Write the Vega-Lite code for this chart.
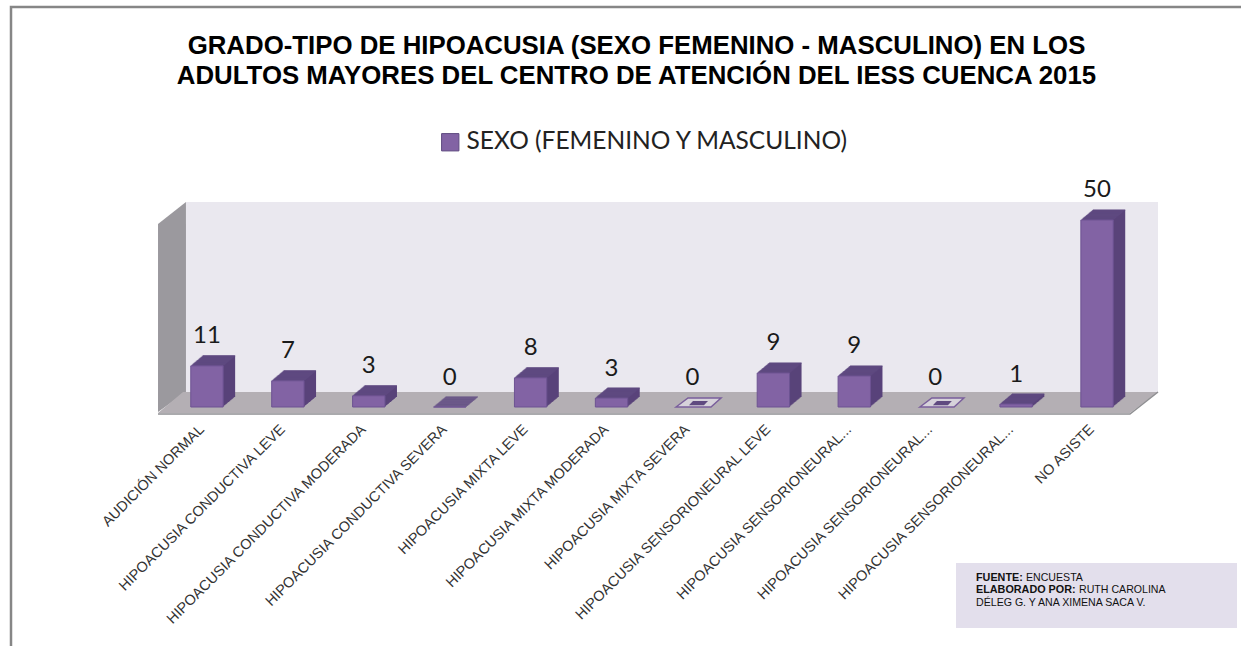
{
"$schema":"https://vega.github.io/schema/vega-lite/v6.json",
"width":1241,"height":646,"autosize":"none","padding":0,"background":"#ffffff",
"view":{"stroke":null},
"title":{"text":["GRADO-TIPO DE HIPOACUSIA (SEXO FEMENINO - MASCULINO) EN LOS","ADULTOS MAYORES DEL CENTRO DE ATENCIÓN DEL IESS CUENCA 2015"],"anchor":"middle","frame":"group","dx":16,"offset":-90,"font":"Liberation Sans","fontSize":25.8,"fontWeight":"bold","color":"#000000","lineHeight":30},
"datasets":{
"barras":[
{"categoria":"AUDICIÓN NORMAL","valor":11,"etiqueta":"11"},
{"categoria":"HIPOACUSIA CONDUCTIVA LEVE","valor":7,"etiqueta":"7"},
{"categoria":"HIPOACUSIA CONDUCTIVA MODERADA","valor":3,"etiqueta":"3"},
{"categoria":"HIPOACUSIA CONDUCTIVA SEVERA","valor":0,"etiqueta":"0"},
{"categoria":"HIPOACUSIA MIXTA LEVE","valor":7.8,"etiqueta":"8"},
{"categoria":"HIPOACUSIA MIXTA MODERADA","valor":2.4,"etiqueta":"3"},
{"categoria":"HIPOACUSIA MIXTA SEVERA","valor":0,"etiqueta":"0"},
{"categoria":"HIPOACUSIA SENSORIONEURAL LEVE","valor":9.1,"etiqueta":"9"},
{"categoria":"HIPOACUSIA SENSORIONEURAL MODERADA","valor":8.3,"etiqueta":"9"},
{"categoria":"HIPOACUSIA SENSORIONEURAL SEVERA","valor":0,"etiqueta":"0"},
{"categoria":"HIPOACUSIA SENSORIONEURAL PROFUNDA","valor":0.8,"etiqueta":"1"},
{"categoria":"NO ASISTE","valor":50,"etiqueta":"50"}
],
"paredFondo":[{"u":0.245,"a":54.81,"b":4.01},{"u":12.172,"a":54.81,"b":4.01}],
"paredLateral":[{"u":-0.098,"a":48.93,"b":-1.34},{"u":0.245,"a":54.81,"b":4.01}],
"suelo":[{"u":-0.098,"a":-1.6,"b":-1.6},{"u":0.209,"a":4.01,"b":-1.6},{"u":11.828,"a":4.01,"b":-1.6},{"u":12.172,"a":4.01,"b":4.01}],
"bordeSuelo":[{"u":-0.098,"a":-1.9},{"u":11.828,"a":-1.9},{"u":12.172,"a":4.01}],
"marco":[{"u":-1.9018,"a":-63.9},{"u":-1.9018,"a":106.95},{"u":13.19,"a":106.95}],
"caja":[{"u":9.693,"a":-41.71,"b":-59.09},{"u":13.141,"a":-41.71,"b":-59.09}],
"vacias":[
{"f":"c7","u":6.258,"a":0,"b":0},{"f":"c7","u":6.405,"a":2.41,"b":0},{"f":"c7","u":6.687,"a":2.41,"b":0},{"f":"c7","u":6.81,"a":2.41,"b":2.41},
{"f":"c10","u":9.25,"a":0,"b":0},{"f":"c10","u":9.397,"a":2.41,"b":0},{"f":"c10","u":9.67,"a":2.41,"b":0},{"f":"c10","u":9.79,"a":2.41,"b":2.41}],
"vaciasInterior":[
{"f":"c7","u":6.417,"a":0.45,"b":0.45},{"f":"c7","u":6.466,"a":1.6,"b":0.45},{"f":"c7","u":6.601,"a":1.6,"b":0.45},{"f":"c7","u":6.65,"a":1.6,"b":1.6},
{"f":"c10","u":9.41,"a":0.45,"b":0.45},{"f":"c10","u":9.459,"a":1.6,"b":0.45},{"f":"c10","u":9.594,"a":1.6,"b":0.45},{"f":"c10","u":9.643,"a":1.6,"b":1.6}],
"notaNegrita":[{"u":9.939,"a":-45.7,"t":"FUENTE:"},{"u":9.939,"a":-48.9,"t":"ELABORADO POR:"}],
"notaNormal":[{"u":10.552,"a":-45.7,"t":"ENCUESTA"},{"u":11.203,"a":-48.9,"t":"RUTH CAROLINA"},{"u":9.939,"a":-52.4,"t":"DÉLEG G. Y ANA XIMENA SACA V."}]
},
"data":{"name":"barras"},
"resolve":{"scale":{"x":"independent"}},
"config":{"axis":{"grid":false}},
"layer":[
{"encoding":{
"x":{"field":"u","type":"quantitative","axis":null,"scale":{"domain":[-2.0368,13.1902],"nice":false,"zero":false}},
"y":{"field":"a","type":"quantitative","axis":null,"scale":{"domain":[-63.9,108.82],"nice":false,"zero":false}},
"y2":{"field":"b"}},
"layer":[
{"data":{"name":"paredFondo"},"mark":{"type":"area","color":"#eae8ef"}},
{"data":{"name":"paredLateral"},"mark":{"type":"area","color":"#9b999e"}},
{"data":{"name":"suelo"},"mark":{"type":"area","color":"#b4afb4"}},
{"data":{"name":"caja"},"mark":{"type":"area","color":"#e3dfec"}},
{"data":{"name":"vacias"},"mark":{"type":"area","fill":"#d6d2da","stroke":"#7a5f9c","strokeWidth":1.5},"encoding":{"detail":{"field":"f"}}},
{"data":{"name":"vaciasInterior"},"mark":{"type":"area","color":"#5f4a80"},"encoding":{"detail":{"field":"f"}}}
]},
{"encoding":{
"x":{"field":"u","type":"quantitative","axis":null,"scale":{"domain":[-2.0368,13.1902],"nice":false,"zero":false}},
"y":{"field":"a","type":"quantitative"}},
"layer":[
{"data":{"name":"bordeSuelo"},"mark":{"type":"line","color":"#8f8f92","strokeWidth":1.5}},
{"data":{"name":"marco"},"mark":{"type":"line","color":"#868686","strokeWidth":2.5}},
{"data":{"name":"notaNegrita"},"mark":{"type":"text","align":"left","baseline":"middle","font":"Liberation Sans","fontSize":10.8,"fontWeight":"bold","color":"#111111"},"encoding":{"text":{"field":"t"}}},
{"data":{"name":"notaNormal"},"mark":{"type":"text","align":"left","baseline":"middle","font":"Liberation Sans","fontSize":10.6,"color":"#111111"},"encoding":{"text":{"field":"t"}}}
]},
{"transform":[{"filter":"indexof(['HIPOACUSIA MIXTA SEVERA','HIPOACUSIA SENSORIONEURAL SEVERA'],datum.categoria)<0"}],
"encoding":{
"x":{"field":"categoria","type":"nominal","sort":null,"scale":{"domain":["AUDICIÓN NORMAL","HIPOACUSIA CONDUCTIVA LEVE","HIPOACUSIA CONDUCTIVA MODERADA","HIPOACUSIA CONDUCTIVA SEVERA","HIPOACUSIA MIXTA LEVE","HIPOACUSIA MIXTA MODERADA","HIPOACUSIA MIXTA SEVERA","HIPOACUSIA SENSORIONEURAL LEVE","HIPOACUSIA SENSORIONEURAL MODERADA","HIPOACUSIA SENSORIONEURAL SEVERA","HIPOACUSIA SENSORIONEURAL PROFUNDA","NO ASISTE"],"range":[166.5,1137.5],"paddingInner":0.6,"paddingOuter":0.3},
"axis":{"title":null,"orient":"bottom","offset":-220,"labelAngle":-45,"labelAlign":"right","labelBaseline":"bottom","labelFont":"Liberation Sans","labelFontSize":14.5,"labelColor":"#333333","labelLimit":400,"labelPadding":6,"domain":false,"ticks":false,"labelExpr":"length(datum.label)>31 ? slice(datum.label,0,25)+'...' : datum.label"}},
"y":{"field":"valor","type":"quantitative"}},
"layer":[
{"mark":{"type":"bar","color":"#59437a","xOffset":12,"yOffset":-10}},
{"mark":{"type":"bar","color":"#59437a","xOffset":11,"yOffset":-9.2}},
{"mark":{"type":"bar","color":"#59437a","xOffset":10,"yOffset":-8.3}},
{"mark":{"type":"bar","color":"#59437a","xOffset":9,"yOffset":-7.5}},
{"mark":{"type":"bar","color":"#59437a","xOffset":8,"yOffset":-6.7}},
{"mark":{"type":"bar","color":"#59437a","xOffset":7,"yOffset":-5.8}},
{"mark":{"type":"bar","color":"#59437a","xOffset":6,"yOffset":-5}},
{"mark":{"type":"bar","color":"#59437a","xOffset":5,"yOffset":-4.2}},
{"mark":{"type":"bar","color":"#59437a","xOffset":4,"yOffset":-3.3}},
{"mark":{"type":"bar","color":"#59437a","xOffset":3,"yOffset":-2.5}},
{"mark":{"type":"bar","color":"#59437a","xOffset":2,"yOffset":-1.7}},
{"mark":{"type":"bar","color":"#59437a","xOffset":1,"yOffset":-0.8}},
{"mark":{"type":"tick","color":"#604a82","size":32.4,"thickness":1.6,"orient":"horizontal","xOffset":12,"yOffset":-10}},
{"mark":{"type":"tick","color":"#604a82","size":32.4,"thickness":1.6,"orient":"horizontal","xOffset":11,"yOffset":-9.2}},
{"mark":{"type":"tick","color":"#604a82","size":32.4,"thickness":1.6,"orient":"horizontal","xOffset":10,"yOffset":-8.3}},
{"mark":{"type":"tick","color":"#604a82","size":32.4,"thickness":1.6,"orient":"horizontal","xOffset":9,"yOffset":-7.5}},
{"mark":{"type":"tick","color":"#604a82","size":32.4,"thickness":1.6,"orient":"horizontal","xOffset":8,"yOffset":-6.7}},
{"mark":{"type":"tick","color":"#604a82","size":32.4,"thickness":1.6,"orient":"horizontal","xOffset":7,"yOffset":-5.8}},
{"mark":{"type":"tick","color":"#604a82","size":32.4,"thickness":1.6,"orient":"horizontal","xOffset":6,"yOffset":-5}},
{"mark":{"type":"tick","color":"#604a82","size":32.4,"thickness":1.6,"orient":"horizontal","xOffset":5,"yOffset":-4.2}},
{"mark":{"type":"tick","color":"#604a82","size":32.4,"thickness":1.6,"orient":"horizontal","xOffset":4,"yOffset":-3.3}},
{"mark":{"type":"tick","color":"#604a82","size":32.4,"thickness":1.6,"orient":"horizontal","xOffset":3,"yOffset":-2.5}},
{"mark":{"type":"tick","color":"#604a82","size":32.4,"thickness":1.6,"orient":"horizontal","xOffset":2,"yOffset":-1.7}},
{"mark":{"type":"tick","color":"#604a82","size":32.4,"thickness":1.6,"orient":"horizontal","xOffset":1,"yOffset":-0.8}},
{"mark":{"type":"bar","stroke":"#6d5392","strokeWidth":1},
"encoding":{"color":{"datum":"SEXO (FEMENINO Y MASCULINO)","type":"nominal","scale":{"range":["#8263a4"]},
"legend":{"title":null,"orient":"none","legendX":438,"legendY":130,"symbolType":"square","symbolSize":300,"symbolStrokeColor":"#5f4a80","symbolStrokeWidth":1,"labelFont":"Lato","labelFontSize":24.5,"labelColor":"#222222","labelLimit":500,"labelOffset":4}}}}
]},
{"encoding":{
"x":{"field":"categoria","type":"nominal","sort":null,"axis":null,"scale":{"domain":["AUDICIÓN NORMAL","HIPOACUSIA CONDUCTIVA LEVE","HIPOACUSIA CONDUCTIVA MODERADA","HIPOACUSIA CONDUCTIVA SEVERA","HIPOACUSIA MIXTA LEVE","HIPOACUSIA MIXTA MODERADA","HIPOACUSIA MIXTA SEVERA","HIPOACUSIA SENSORIONEURAL LEVE","HIPOACUSIA SENSORIONEURAL MODERADA","HIPOACUSIA SENSORIONEURAL SEVERA","HIPOACUSIA SENSORIONEURAL PROFUNDA","NO ASISTE"],"range":[166.5,1137.5],"paddingInner":0.6,"paddingOuter":0.3}},
"y":{"field":"valor","type":"quantitative"},
"text":{"field":"etiqueta"}},
"mark":{"type":"text","font":"Lato","fontSize":24,"color":"#1a1a1a","baseline":"middle","yOffset":-29.5}}
]}
